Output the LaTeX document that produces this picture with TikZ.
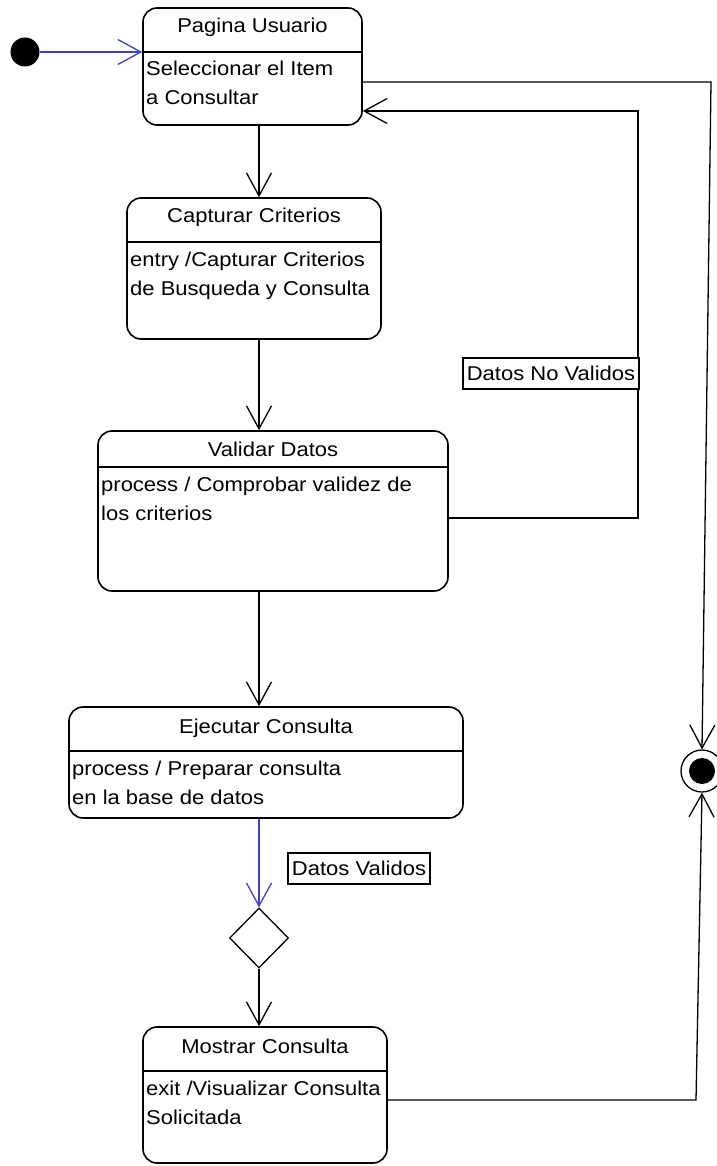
\documentclass[tikz,border=0pt]{standalone}
\usepackage{fontspec}
\setmainfont{Liberation Sans}[FakeStretch=1.1]
\usetikzlibrary{arrows.meta,shapes.geometric}
\definecolor{flowblue}{RGB}{64,64,200}
\begin{document}
\begin{tikzpicture}[x=1pt,y=-1pt,
  stbox/.style={draw, rounded corners=14pt, line width=1.6pt, inner sep=0pt},
  divider/.style={line width=1.6pt},
  conn/.style={line width=1.3pt, -{Straight Barb[length=23pt,width=25pt]}},
  txt/.style={inner sep=0pt, anchor=base west, font=\fontsize{20}{29}\selectfont},
  ttl/.style={inner sep=0pt, anchor=base, font=\fontsize{20}{29}\selectfont},
  guard/.style={draw, line width=1.3pt, inner sep=0pt, fill=white, font=\fontsize{20}{29}\selectfont}
]
\useasboundingbox (0,0) rectangle (716,1166);

% initial and final pseudo-states
\node[circle, fill=black, minimum size=29pt, inner sep=0pt] (init) at (25,52) {};
\node[circle, draw, line width=1.3pt, minimum size=42pt, inner sep=0pt] (fin) at (702,771) {};
\node[circle, fill=black, minimum size=26pt, inner sep=0pt] (finc) at (fin) {};

% Pagina Usuario
\node[stbox, minimum width=219pt, minimum height=117pt] (b1) at (252.5,66.5) {};
\draw[divider] (b1.west |- 0,52) -- (b1.east |- 0,52);
\node[ttl] (t1) at (252.5,33) {Pagina Usuario};
\node[txt] (l1a) at (146,76) {Seleccionar el Item};
\node[txt] (l1b) at (146,105) {a Consultar};

% Capturar Criterios
\node[stbox, minimum width=254pt, minimum height=141pt] (b2) at (254,268.5) {};
\draw[divider] (b2.west |- 0,242) -- (b2.east |- 0,242);
\node[ttl] (t2) at (254,223) {Capturar Criterios};
\node[txt] (l2a) at (130,266) {entry /Capturar Criterios};
\node[txt] (l2b) at (130,295) {de Busqueda y Consulta};

% Validar Datos
\node[stbox, minimum width=350pt, minimum height=160pt] (b3) at (273,511) {};
\draw[divider] (b3.west |- 0,467) -- (b3.east |- 0,467);
\node[ttl] (t3) at (273,456) {Validar Datos};
\node[txt] (l3a) at (101,491) {process / Comprobar validez de};
\node[txt] (l3b) at (101,520) {los criterios};

% Ejecutar Consulta
\node[stbox, minimum width=394pt, minimum height=111pt] (b4) at (266,762.5) {};
\draw[divider] (b4.west |- 0,751) -- (b4.east |- 0,751);
\node[ttl] (t4) at (266,733) {Ejecutar Consulta};
\node[txt] (l4a) at (72,775) {process / Preparar consulta};
\node[txt] (l4b) at (72,804) {en la base de datos};

% decision
\node[diamond, draw, line width=1.3pt, minimum width=59pt, minimum height=60pt, inner sep=0pt] (dec) at (259,938) {};

% Mostrar Consulta
\node[stbox, minimum width=244pt, minimum height=136pt] (b5) at (265,1095) {};
\draw[divider] (b5.west |- 0,1071) -- (b5.east |- 0,1071);
\node[ttl] (t5) at (265,1053) {Mostrar Consulta};
\node[txt] (l5a) at (146,1095) {exit /Visualizar Consulta};
\node[txt] (l5b) at (146,1124) {Solicitada};

% main flow
\coordinate (col) at (259,0);
\draw[conn, flowblue] (init.east) -- (b1.west |- init);
\draw[conn] (b1.south -| col) -- (b2.north -| col);
\draw[conn] (b2.south -| col) -- (b3.north -| col);
\draw[conn] (b3.south -| col) -- (b4.north -| col);
\draw[conn, flowblue] (b4.south -| col) -- (dec.north);
\draw[conn] (dec.south) -- (b5.north -| col);

% invalid data loops back to the user page
\coordinate (nvA) at (638,518);
\coordinate (nvB) at (638,111);
\draw[conn] (b3.east |- nvA) -- (nvA) -- (nvB) -- (b1.east |- nvB);

% exits to the final state
\coordinate (exA) at (711,82);
\draw[conn] (b1.east |- exA) -- (exA) -- (fin.north);
\coordinate (exB) at (696,1100);
\draw[conn] (b5.east |- exB) -- (exB) -- (fin.south);

% guard labels
\node[guard, minimum width=176pt, minimum height=31pt] (gNo) at (551,373.5) {Datos No Validos};
\node[guard, minimum width=142pt, minimum height=31pt] (gSi) at (359,868.5) {Datos Validos};
\end{tikzpicture}
\end{document}
